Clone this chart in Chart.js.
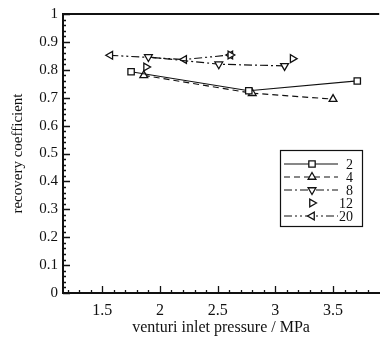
<!DOCTYPE html>
<html>
<head>
<meta charset="utf-8">
<script src="https://cdn.jsdelivr.net/npm/chart.js@4"></script>
<style>
  html, body { margin: 0; padding: 0; background: #fff; }
  canvas { display: block; }
</style>
</head>
<body>
<canvas id="c" width="385" height="339"></canvas>
<script>
// --- data ---
const X_TICKS = [1.5, 2, 2.5, 3, 3.5];
const Y_TICKS = [0, 0.1, 0.2, 0.3, 0.4, 0.5, 0.6, 0.7, 0.8, 0.9, 1];
const SERIES_NAMES = ['2', '4', '8', '12', '20'];

const s2  = [[1.75, 0.793], [2.77, 0.725], [3.71, 0.760]];
const s4  = [[1.86, 0.780], [2.80, 0.716], [3.50, 0.695]];
const s8  = [[1.90, 0.846], [2.51, 0.820], [3.08, 0.814]];
const s12 = [[1.88, 0.810], [2.61, 0.853], [3.15, 0.840]];
const s20 = [[1.57, 0.852], [2.21, 0.837], [2.61, 0.853]];

const FONT = '"Liberation Serif", "DejaVu Serif", serif';
const INK = '#111';

const styles = [
  { pts: s2,  shape: 'rect',     rot: 0,   dash: [],                 line: true },
  { pts: s4,  shape: 'triangle', rot: 0,   dash: [6, 4],             line: true },
  { pts: s8,  shape: 'triangle', rot: 180, dash: [8, 3, 2, 3],       line: true },
  { pts: s12, shape: 'triangle', rot: 90,  dash: [],                 line: false },
  { pts: s20, shape: 'triangle', rot: -90, dash: [8, 3, 2, 3, 2, 3], line: true }
];

const datasets = styles.map((s, i) => ({
  label: SERIES_NAMES[i],
  data: s.pts.map(p => ({ x: p[0], y: p[1] })),
  showLine: s.line,
  borderColor: INK,
  borderWidth: 1.2,
  borderDash: s.dash,
  backgroundColor: '#fff',
  pointStyle: s.shape,
  rotation: s.rot,
  pointRadius: 4.5,
  pointBorderWidth: 1.3,
  pointBorderColor: INK,
  pointBackgroundColor: '#fff'
}));

// inward ticks, minor ticks and top frame line
const frame = {
  id: 'frame',
  afterDraw(chart) {
    const { ctx, chartArea: a, scales: { x, y } } = chart;
    ctx.save();
    ctx.strokeStyle = INK;
    ctx.lineWidth = 1.3;
    ctx.beginPath();
    for (let i = 0; i <= 50; i++) {
      const py = Math.round(y.getPixelForValue(i * 0.02)) + 0.5;
      const len = i % 5 === 0 ? 7 : 3;
      ctx.moveTo(a.left, py); ctx.lineTo(a.left + len, py);
    }
    for (let i = 12; i <= 38; i++) {
      const px = Math.round(x.getPixelForValue(i / 10)) + 0.5;
      const len = i % 5 === 0 ? 7 : 3;
      ctx.moveTo(px, a.bottom); ctx.lineTo(px, a.bottom - len);
    }
    ctx.stroke();
    ctx.lineWidth = 2;
    ctx.beginPath();
    ctx.moveTo(a.left, a.top); ctx.lineTo(a.right, a.top);
    ctx.stroke();
    ctx.restore();
  }
};

// boxed legend inside the plot
const legendBox = {
  id: 'legendBox',
  afterDraw(chart) {
    const ctx = chart.ctx;
    const bx = 280, by = 150, bw = 82, bh = 76;
    ctx.save();
    ctx.strokeStyle = INK;
    ctx.lineWidth = 1.2;
    ctx.setLineDash([]);
    ctx.strokeRect(bx + 0.5, by + 0.5, bw, bh);
    ctx.font = '14px ' + FONT;
    ctx.fillStyle = INK;
    ctx.textAlign = 'right';
    ctx.textBaseline = 'middle';
    chart.data.datasets.forEach((ds, i) => {
      const ry = by + 14 + i * 13;
      if (ds.showLine) {
        ctx.setLineDash(ds.borderDash);
        ctx.lineWidth = 1.2;
        ctx.beginPath();
        ctx.moveTo(bx + 4, ry); ctx.lineTo(bx + 58, ry);
        ctx.stroke();
      }
      ctx.setLineDash([]);
      ctx.fillStyle = '#fff';
      ctx.lineWidth = 1.3;
      Chart.helpers.drawPoint(ctx, {
        pointStyle: ds.pointStyle, rotation: ds.rotation,
        radius: 4.5, borderWidth: 1.3
      }, bx + 32, ry);
      ctx.fillStyle = INK;
      ctx.fillText(ds.label, bx + 73, ry + 1);
    });
    ctx.restore();
  }
};

new Chart(document.getElementById('c'), {
  type: 'scatter',
  data: { datasets },
  options: {
    responsive: false,
    animation: false,
    layout: { padding: { top: 13, right: 0, left: 0, bottom: 0 } },
    plugins: { legend: { display: false }, tooltip: { enabled: false } },
    scales: {
      x: {
        type: 'linear',
        min: 1.16,
        max: 3.9,
        afterBuildTicks: s => { s.ticks = X_TICKS.map(v => ({ value: v })); },
        afterFit: s => { s.height = 46; },
        grid: { drawOnChartArea: false, drawTicks: false },
        border: { color: INK, width: 2 },
        ticks: {
          color: INK, padding: 8, maxRotation: 0,
          font: { family: FONT, size: 16 },
          callback: v => String(v)
        },
        title: {
          display: true, text: 'venturi inlet pressure / MPa', color: INK,
          font: { family: FONT, size: 16 }, padding: { top: 0, bottom: 2 }
        }
      },
      y: {
        type: 'linear',
        min: 0,
        max: 1,
        afterBuildTicks: s => { s.ticks = Y_TICKS.map(v => ({ value: v })); },
        afterFit: s => { s.width = 63; },
        grid: { drawOnChartArea: false, drawTicks: false },
        border: { color: INK, width: 2 },
        ticks: {
          color: INK, padding: 5,
          font: { family: FONT, size: 15 },
          callback: v => String(v)
        },
        title: {
          display: true, text: 'recovery coefficient', color: INK,
          font: { family: FONT, size: 15 }, padding: { top: 9, bottom: 0 }
        }
      }
    }
  },
  plugins: [frame, legendBox]
});
</script>
</body>
</html>
